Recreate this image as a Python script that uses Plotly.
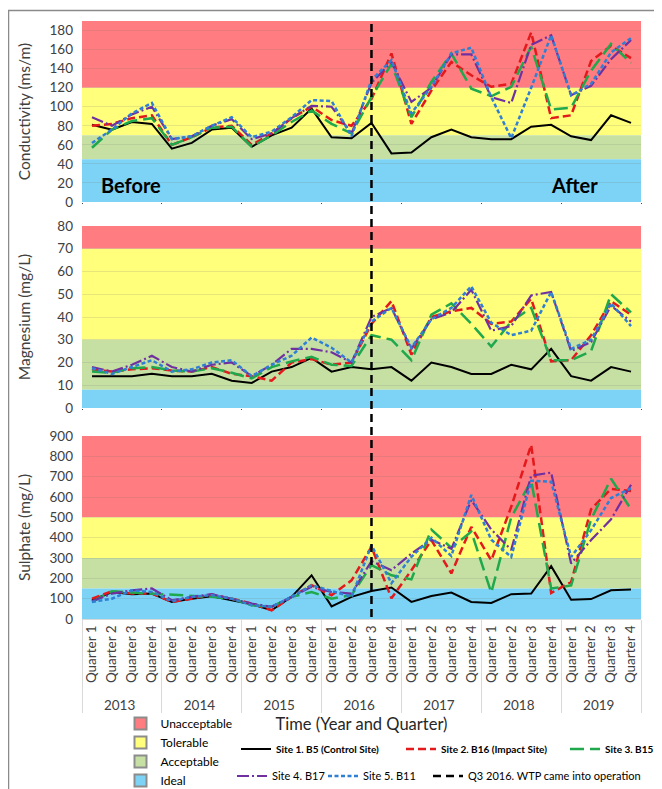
import plotly.graph_objects as go
from plotly.subplots import make_subplots

# ---------------- data ----------------
years = ["2013", "2014", "2015", "2016", "2017", "2018", "2019"]
quarters = ["Quarter 1", "Quarter 2", "Quarter 3", "Quarter 4"]

site_names = ["Site 1. B5 (Control Site)", "Site 2. B16 (Impact Site)",
              "Site 3. B15", "Site 4. B17", "Site 5. B11"]

cond_s1 = [81, 76, 84, 82, 56, 62, 76, 78, 58, 70, 78, 98, 68, 67, 83, 51,
           52, 68, 76, 68, 66, 66, 79, 81, 69, 65, 91, 83]
cond_s2 = [80, 82, 88, 91, 60, 68, 78, 80, 60, 72, 88, 100, 86, 80, 108, 156,
           82, 117, 147, 133, 121, 124, 178, 88, 91, 148, 164, 151]
cond_s3 = [57, 76, 85, 88, 60, 68, 78, 79, 58, 70, 84, 96, 82, 72, 110, 145,
           89, 126, 156, 119, 111, 121, 163, 97, 99, 138, 166, 146]
cond_s4 = [89, 80, 92, 100, 66, 69, 80, 87, 66, 72, 88, 101, 100, 72, 125, 147,
           105, 120, 155, 155, 110, 104, 165, 175, 112, 122, 150, 170]
cond_s5 = [62, 76, 93, 104, 66, 69, 80, 89, 68, 74, 89, 107, 106, 69, 128, 149,
           93, 121, 156, 162, 110, 67, 120, 175, 112, 124, 157, 172]

mg_s1 = [14, 14, 14, 15, 14, 14, 15, 12, 11, 16, 18, 22, 16, 18, 17, 18,
         12, 20, 18, 15, 15, 19, 17, 26, 14, 12, 18, 16]
mg_s2 = [17, 16, 17, 17.5, 16.5, 16, 18, 15, 14, 12, 20, 21.5, 19, 20, 37, 47,
         23.5, 40, 42.5, 44, 37, 38, 48, 20.5, 21, 32, 47, 41]
mg_s3 = [16, 15.5, 17.5, 18, 16.5, 16, 17.5, 15.5, 13, 18, 20.5, 22.5, 19, 18.5, 32, 30,
         21, 41, 46, 37, 27, 38, 44, 21, 21, 25, 50, 42]
mg_s4 = [18, 16, 19, 23, 18, 16, 19, 20, 14, 19, 26, 26, 24.5, 20, 40, 44,
         26, 39, 42, 52, 34, 36, 49.5, 51, 25, 29, 45, 38]
mg_s5 = [17.5, 15, 18, 21, 16, 17, 20, 21, 14, 19, 23, 31, 26.5, 20, 38, 44,
         26.5, 39, 44, 53.5, 37.5, 32, 34, 51, 26, 30, 46, 36]

so4_s1 = [92, 133, 122, 125, 84, 100, 112, 92, 72, 43, 109, 215, 62, 109, 138, 155,
          84, 113, 130, 84, 79, 122, 125, 260, 95, 98, 141, 145]
so4_s2 = [100, 136, 125, 125, 84, 100, 120, 100, 76, 43, 109, 166, 117, 190, 355, 102,
          240, 388, 224, 453, 289, 552, 856, 128, 182, 540, 640, 630]
so4_s3 = [84, 136, 130, 125, 120, 112, 109, 100, 68, 60, 109, 133, 100, 117, 265, 215,
          195, 440, 350, 430, 130, 500, 680, 150, 165, 490, 690, 540]
so4_s4 = [87, 125, 141, 150, 92, 109, 122, 100, 76, 60, 109, 158, 133, 125, 285, 240,
          322, 390, 345, 585, 440, 340, 705, 720, 273, 388, 490, 660]
so4_s5 = [84, 100, 141, 133, 87, 109, 117, 100, 68, 60, 109, 166, 138, 109, 363, 176,
          306, 400, 310, 610, 390, 305, 680, 675, 305, 437, 595, 643]

band_names = ["Unacceptable", "Tolerable", "Acceptable", "Ideal"]
cond_limits = [190, 120, 70, 45, 0]
mg_limits = [80, 70, 30, 8, 0]
so4_limits = [900, 500, 300, 150, 0]

panel_titles = ["Conductivity (ms/m)", "Magnesium (mg/L)", "Sulphate (mg/L)"]
panel_dtick = [20, 10, 100]
panel_range = [[0, 190], [0, 80], [0, 900]]

wtp_year, wtp_quarter = "2016", "Quarter 3"
wtp_label = "Q3 2016. WTP came into operation"

# ---------------- styles ----------------
band_colors = ["#FF7C80", "#FFFF7B", "#C6E0A4", "#7CD3F5"]
site_colors = ["#000000", "#E3191C", "#1FA84C", "#7030A0", "#2F7FD3"]
site_dash = ["solid", "8px,4px", "14px,6px", "12px,3px,2px,3px", "4px,2.5px"]
site_width = [2, 2.5, 2.5, 2.2, 2.5]

FONT = "Lato, 'Open Sans', sans-serif"
TXT = "#404040"

x_year = [y for y in years for _ in quarters]
x_quarter = [q for _ in years for q in quarters]
x_cat = [x_year, x_quarter]

panels = [
    [cond_s1, cond_s2, cond_s3, cond_s4, cond_s5],
    [mg_s1, mg_s2, mg_s3, mg_s4, mg_s5],
    [so4_s1, so4_s2, so4_s3, so4_s4, so4_s5],
]
panel_limits = [cond_limits, mg_limits, so4_limits]

# pixel layout (screen coordinates; page body adds an 8px offset)
OFF = 8
W, H = 662 - OFF, 789 - OFF
PL, PR = 82, 641
PT, PB = 20, 619
panel_px = [(21, 202), (226, 408), (436, 619)]


def ydom(top, bot):
    h = PB - PT
    return [(PB - bot) / h, (PB - top) / h]


def px_x(px):
    return (px - PL) / (PR - PL)


def px_y(py):
    return (PB - py) / (PB - PT)


fig = make_subplots(rows=3, cols=1)

for r, series in enumerate(panels, start=1):
    for s, vals in enumerate(series):
        fig.add_trace(go.Scatter(
            x=x_cat, y=vals, mode="lines", name=site_names[s],
            line=dict(color=site_colors[s], width=site_width[s], dash=site_dash[s]),
            showlegend=(r == 1), legend=f"legend{s + 2}", legendgroup=site_names[s]),
            row=r, col=1)
    limits = panel_limits[r - 1]
    for i, col in enumerate(band_colors):
        fig.add_hrect(y0=limits[i + 1], y1=limits[i], fillcolor=col, opacity=1,
                      line_width=0, layer="below", row=r, col=1,
                      exclude_empty_subplots=False)

# band legend entries (no visible marks)
for name, col in zip(band_names, band_colors):
    fig.add_trace(go.Scatter(
        x=[[years[0]], [quarters[0]]], y=[None], mode="markers", name=name,
        marker=dict(symbol="square", size=16, color=col,
                    line=dict(color="#8c8c8c", width=1)),
        legend="legend", hoverinfo="skip"), row=3, col=1)

wtp_index = years.index(wtp_year) * len(quarters) + quarters.index(wtp_quarter)
fig.add_shape(type="line", xref="x3", yref="paper", x0=wtp_index, x1=wtp_index,
              y0=px_y(617), y1=px_y(20), line=dict(color="#000000", width=2.5, dash="8px,5px"),
              layer="above", showlegend=True, name=wtp_label, legend="legend7")

# page frame
fig.add_shape(type="rect", xref="paper", yref="paper",
              x0=px_x(8.5), x1=px_x(659), y0=px_y(800), y1=px_y(10.5),
              line=dict(color="#8a8a8a", width=1.5), fillcolor="rgba(0,0,0,0)",
              layer="above")

n_cat = len(x_year)
for r in range(1, 4):
    top, bot = panel_px[r - 1]
    fig.update_yaxes(
        domain=ydom(top, bot), range=panel_range[r - 1], dtick=panel_dtick[r - 1],
        tick0=0, showgrid=True, gridcolor="rgba(110,110,110,0.17)", gridwidth=1,
        zeroline=False, showline=False, ticks="", ticklabelstandoff=8,
        tickfont=dict(family=FONT, size=13.5, color=TXT),
        title=dict(text=panel_titles[r - 1], font=dict(family=FONT, size=15.5, color=TXT),
                   standoff=15 if r != 2 else 22),
        fixedrange=True, row=r, col=1)
    fig.update_xaxes(type="multicategory", domain=[0, 1], showgrid=False,
                     zeroline=False, range=[-0.5, n_cat - 0.5], row=r, col=1)

fig.update_xaxes(showticklabels=False, matches="x3", row=1, col=1)
fig.update_xaxes(showticklabels=False, matches="x3", row=2, col=1)
fig.update_xaxes(showticklabels=True, tickangle=-90, showdividers=True,
                 dividercolor="#d9d9d9", dividerwidth=1, showline=True,
                 linecolor="#d9d9d9", ticks="",
                 tickfont=dict(family=FONT, size=13.5, color=TXT),
                 title=dict(text="Time (Year and Quarter)", standoff=6,
                            font=dict(family=FONT, size=16.5, color="#262626")),
                 row=3, col=1)

fig.add_annotation(text="<b>Before</b>", xref="x domain", yref="y domain",
                   x=px_x(99), y=0.095, xanchor="left", yanchor="middle",
                   showarrow=False, font=dict(family=FONT, size=20, color="#000000"))
fig.add_annotation(text="<b>After</b>", xref="x domain", yref="y domain",
                   x=px_x(600), y=0.095, xanchor="right", yanchor="middle",
                   showarrow=False, font=dict(family=FONT, size=20, color="#000000"))

leg_common = dict(bgcolor="rgba(0,0,0,0)", borderwidth=0, xanchor="left",
                  yanchor="middle", orientation="h")
row1_y, row2_y = px_y(749), px_y(776)
bold_font = dict(family=FONT, size=10, color="#000000", weight="bold")
reg_font = dict(family=FONT, size=11, color="#000000")

fig.update_layout(
    width=W, height=H,
    margin=dict(l=PL - OFF, r=662 - PR, t=PT - OFF, b=789 - PB, autoexpand=False),
    paper_bgcolor="white", plot_bgcolor="rgba(0,0,0,0)",
    font=dict(family=FONT, color=TXT),
    legend=dict(x=px_x(120.5), y=px_y(709), xanchor="left", yanchor="top",
                bgcolor="rgba(0,0,0,0)", orientation="v", itemsizing="constant",
                font=dict(family=FONT, size=12, color="#000000")),
    legend2=dict(x=px_x(236), y=row1_y, font=bold_font, **leg_common),
    legend3=dict(x=px_x(401), y=row1_y, font=bold_font, **leg_common),
    legend4=dict(x=px_x(565), y=row1_y, font=bold_font, **leg_common),
    legend5=dict(x=px_x(232), y=row2_y, font=reg_font, **leg_common),
    legend6=dict(x=px_x(323), y=row2_y, font=reg_font, **leg_common),
    legend7=dict(x=px_x(428), y=row2_y, font=reg_font, **leg_common),
    showlegend=True,
)

fig.write_html("out.html")
